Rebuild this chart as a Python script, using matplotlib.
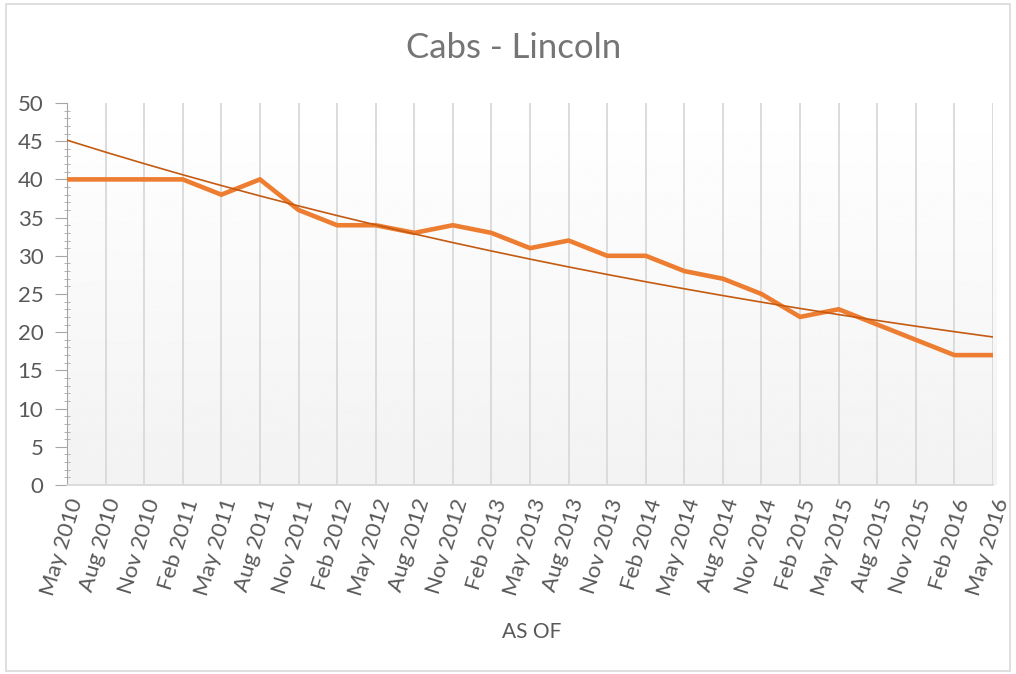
"""
Cabs - Lincoln: quarterly count with an exponential trend line.
"""

import matplotlib.pyplot as plt
import numpy as np
from matplotlib.patches import Rectangle
from matplotlib.ticker import MultipleLocator


# ---------------------------------------------------------------------------
# Data
# ---------------------------------------------------------------------------

QUARTERS = [
    "May 2010", "Aug 2010", "Nov 2010", "Feb 2011", "May 2011", "Aug 2011",
    "Nov 2011", "Feb 2012", "May 2012", "Aug 2012", "Nov 2012", "Feb 2013",
    "May 2013", "Aug 2013", "Nov 2013", "Feb 2014", "May 2014", "Aug 2014",
    "Nov 2014", "Feb 2015", "May 2015", "Aug 2015", "Nov 2015", "Feb 2016",
    "May 2016",
]
CABS = [
    40, 40, 40, 40, 38, 40,
    36, 34, 34, 33, 34, 33,
    31, 32, 30, 30, 28, 27,
    25, 22, 23, 21, 19, 17,
    17,
]

TITLE = "Cabs - Lincoln"
X_LABEL = "AS OF"

LINE_COLOR = "#ED7D31"
TREND_COLOR = "#C55A11"
TEXT_COLOR = "#595959"
GRID_COLOR = "#D9D9D9"

plt.rcParams["font.family"] = ["Lato", "DejaVu Sans"]


def main() -> None:
    x = np.arange(len(QUARTERS))
    y = np.array(CABS, dtype=float)

    # Excel-style exponential trendline (least squares on log values).
    slope, intercept = np.polyfit(x, np.log(y), 1)
    trend = np.exp(intercept + slope * x)

    fig = plt.figure(figsize=(10.16, 6.74), dpi=100)
    fig.patches.append(
        Rectangle((0.006, 0.004), 0.988, 0.99, transform=fig.transFigure,
                  fill=False, edgecolor=GRID_COLOR, linewidth=1.2)
    )

    ax = fig.add_axes([67 / 1016, 1 - 485 / 674, 926 / 1016, 382 / 674])
    ax.set_xlim(0, len(QUARTERS) - 1)
    ax.set_ylim(0, 50)

    # Soft vertical gradient behind the plot area.
    gradient = np.linspace(0.95, 1.0, 256).reshape(-1, 1)
    ax.imshow(gradient, cmap="gray", vmin=0, vmax=1, aspect="auto",
              extent=(0, len(QUARTERS) - 1 + 0.1, 0, 50), origin="lower",
              zorder=0, clip_on=False)

    for xi in x[1:]:
        ax.axvline(xi, color=GRID_COLOR, linewidth=1.3, zorder=1)

    ax.plot(x, y, color=LINE_COLOR, linewidth=3.3, zorder=3,
            solid_joinstyle="miter")
    ax.plot(x, trend, color=TREND_COLOR, linewidth=1.2, zorder=4)

    for side in ("top", "right"):
        ax.spines[side].set_visible(False)
    ax.spines["left"].set_color("#A6A6A6")
    ax.spines["bottom"].set_color(GRID_COLOR)
    ax.spines["bottom"].set_linewidth(1.3)

    ax.yaxis.set_major_locator(MultipleLocator(5))
    ax.yaxis.set_minor_locator(MultipleLocator(1))
    ax.tick_params(axis="y", which="major", length=9, color="#A6A6A6",
                   labelsize=16, labelcolor=TEXT_COLOR, pad=8)
    ax.tick_params(axis="y", which="minor", length=5, direction="inout",
                   color="#A6A6A6")

    ax.set_xticks(x)
    ax.set_xticklabels(QUARTERS, rotation=73, ha="right",
                       rotation_mode="anchor", fontsize=16, color=TEXT_COLOR)
    ax.tick_params(axis="x", length=0, pad=8)

    fig.text(514 / 1016, 1 - 48 / 674, TITLE, ha="center", va="center",
             fontsize=25, color="#757575")
    fig.text(532 / 1016, 1 - 632 / 674, X_LABEL, ha="center", va="center",
             fontsize=15, color=TEXT_COLOR)

    fig.savefig("out.png", dpi=100)


if __name__ == "__main__":
    main()
